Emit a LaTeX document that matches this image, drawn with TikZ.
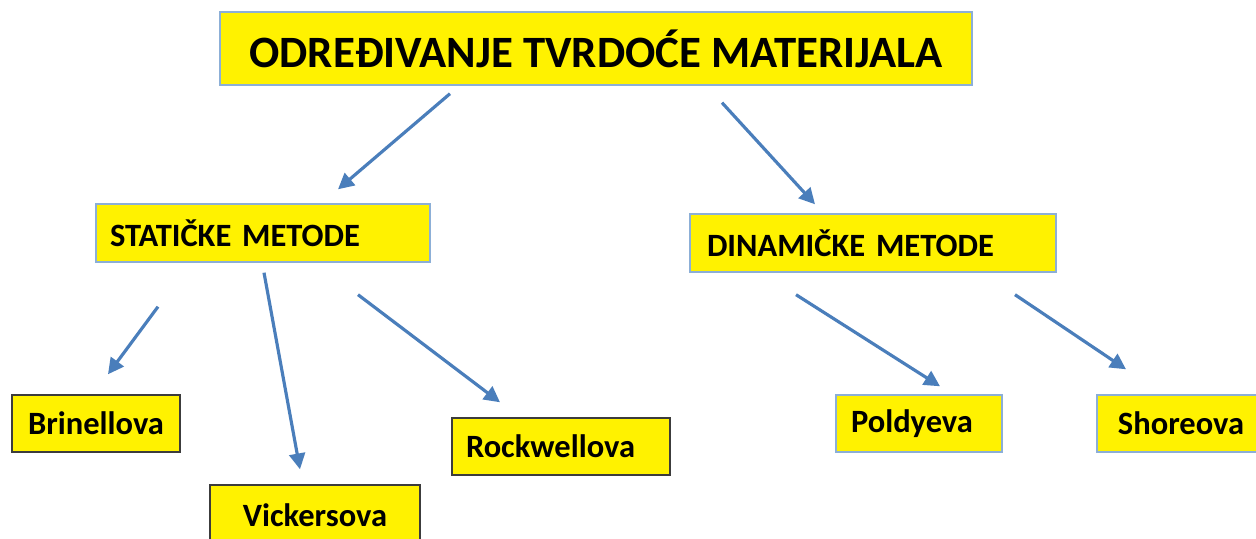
\documentclass[tikz,border=0pt]{standalone}
\usepackage{fontspec}
\setmainfont{Carlito}
\usetikzlibrary{arrows.meta}
\definecolor{boxblue}{RGB}{140,175,215}
\definecolor{boxdark}{RGB}{60,60,60}
\definecolor{arrowblue}{RGB}{74,126,187}
\tikzset{
  card/.style={draw=boxblue, line width=0.8pt, fill=yellow, font=\bfseries\fontsize{18.5}{22}\selectfont, inner sep=0pt},
  darkcard/.style={card, draw=boxdark},
  link/.style={draw=arrowblue, line width=1.8pt, -{Triangle[length=9pt,width=9pt]}}
}
\begin{document}
\begin{tikzpicture}
			\useasboundingbox (0,0) rectangle (25.12,10.78);
			\clip (0,0) rectangle (25.12,10.78);
			% glavni naslov
			\node[card, minimum width=15.04cm, minimum height=1.46cm, font=\bfseries\fontsize{25.5}{30}\selectfont] (tvrdoca) at (11.92,9.81) {ODREĐIVANJE TVRDOĆE MATERIJALA};
			% dvije grupe metoda
			\node[card, text width=6.12cm, minimum height=1.16cm, inner xsep=0.28cm, align=left] (staticke) at (5.26,6.12) {STATIČKE METODE};
			\node[card, text width=6.64cm, minimum height=1.16cm, inner xsep=0.34cm, align=left] (dinamicke) at (17.46,5.92) {DINAMIČKE METODE};
			% pojedine metode
			\node[darkcard, minimum width=3.36cm, minimum height=1.14cm] (brinell) at (1.92,2.31) {Brinellova};
			\node[darkcard, minimum width=4.2cm, minimum height=1.2cm] (vickers) at (6.3,0.48) {Vickersova};
			\node[darkcard, text width=3.8cm, minimum height=1.14cm, inner xsep=0.28cm, align=left] (rockwell) at (11.22,1.85) {Rockwellova};
			\node[card, text width=2.72cm, minimum height=1.14cm, inner xsep=0.3cm, align=left] (poldi) at (18.38,2.31) {Poldyeva};
			\node[card, minimum width=3.36cm, minimum height=1.14cm] (shore) at (23.62,2.31) {Shoreova};
			% strelice
			\draw[link] ([shift={(-2.92,-0.16)}]tvrdoca.south) -- ([shift={(1.5,0.28)}]staticke.north);
			\draw[link] ([shift={(2.52,-0.34)}]tvrdoca.south) -- ([shift={(-1.16,0.18)}]dinamicke.north);
			\draw[link] ([shift={(-2.1,-0.88)}]staticke.south) -- ([shift={(0.24,0.4)}]brinell.north);
			\draw[link] ([shift={(0.02,-0.2)}]staticke.south) -- ([shift={(-0.3,0.3)}]vickers.north);
			\draw[link] ([shift={(1.9,-0.64)}]staticke.south) -- ([shift={(-1.22,0.3)}]rockwell.north);
			\draw[link] ([shift={(-1.54,-0.44)}]dinamicke.south) -- ([shift={(0.42,0.16)}]poldi.north);
			\draw[link] ([shift={(2.84,-0.44)}]dinamicke.south) -- ([shift={(-1.1,0.5)}]shore.north);
		\end{tikzpicture}
\end{document}
